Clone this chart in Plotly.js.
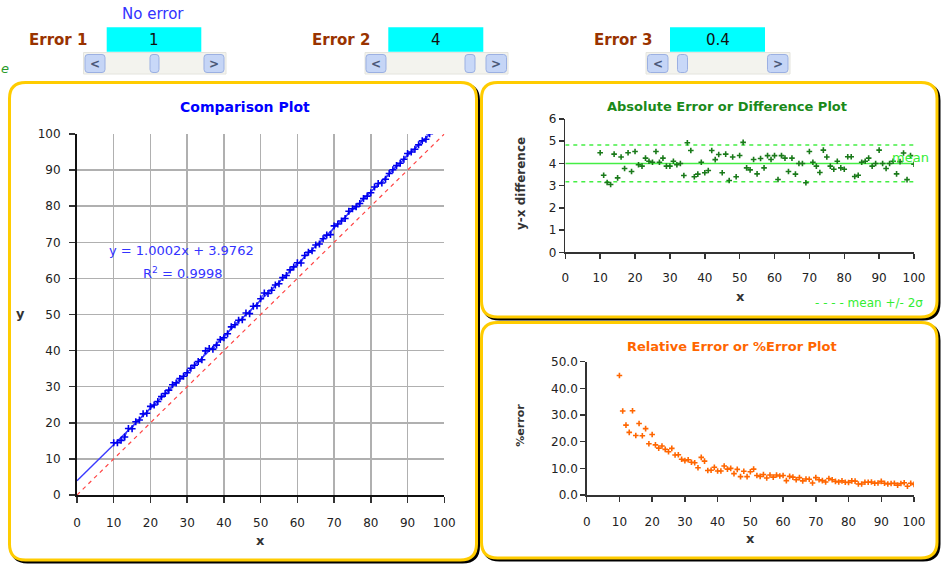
<!DOCTYPE html>
<html>
<head>
<meta charset="utf-8">
<script src="https://cdn.plot.ly/plotly-3.0.1.min.js"></script>
<style>
  html, body { margin: 0; padding: 0; background: #ffffff; }
  #chart { width: 943px; height: 565px; }
</style>
</head>
<body>
<div id="chart"></div>
<script>
// ---------------- DATA ----------------
const xValues = [10,11,12,13,14,15,16,17,18,19,20,21,22,23,24,25,26,27,28,29,30,
  31,32,33,34,35,36,37,38,39,40,41,42,43,44,45,46,47,48,49,50,
  51,52,53,54,55,56,57,58,59,60,61,62,63,64,65,66,67,68,69,70,
  71,72,73,74,75,76,77,78,79,80,81,82,83,84,85,86,87,88,89,90,
  91,92,93,94,95,96,97,98,99,100];

const yValues = [14.48,14.47,15.14,16.05,18.42,18.35,20.29,20.77,22.48,22.64,24.54,
  24.94,25.88,27.24,28.10,29.05,30.54,31.05,32.24,32.88,33.88,
  35.10,35.94,37.00,37.46,39.93,40.58,40.40,41.52,43.05,43.58,
  44.68,46.58,47.17,48.40,48.58,50.42,50.23,52.29,52.40,54.36,
  55.95,55.80,56.71,58.18,58.53,60.22,60.80,62.35,63.18,64.35,
  64.28,66.35,67.24,67.64,69.24,69.52,71.00,72.00,72.13,74.54,
  75.05,75.88,76.59,78.60,79.29,79.88,80.74,82.10,82.80,83.74,
  85.30,86.30,86.41,87.47,89.05,90.10,91.24,91.88,93.00,94.60,
  95.00,95.77,97.00,98.10,98.53,100.08,101.47,101.27,103.35,103.96];

const diffValues = [4.48,3.47,3.14,3.05,4.42,3.35,4.29,3.77,4.48,3.64,4.54,
  3.94,3.88,4.24,4.10,4.05,4.54,4.05,4.24,3.88,3.88,
  4.10,3.94,4.00,3.46,4.93,4.58,3.40,3.52,4.05,3.58,
  3.68,4.58,4.17,4.40,3.58,4.42,3.23,4.29,3.40,4.36,
  4.95,3.80,3.71,4.18,3.53,4.22,3.80,4.35,4.18,4.35,
  3.28,4.35,4.24,3.64,4.24,3.52,4.00,4.00,3.13,4.54,
  4.05,3.88,3.59,4.60,4.29,3.88,3.74,4.10,3.80,3.74,
  4.30,4.30,3.41,3.47,4.05,4.10,4.24,3.88,4.00,4.60,
  4.00,3.77,4.00,4.10,3.53,4.08,4.47,3.27,4.35,3.96];

const pctErrorValues = [44.8,31.5,26.2,23.5,31.6,22.3,26.8,22.2,24.9,19.2,22.7,
  18.8,17.6,18.4,17.1,16.2,17.5,15.0,15.1,13.4,12.9,
  13.2,12.3,12.1,10.2,14.1,12.7,9.2,9.3,10.4,9.0,
  9.0,10.9,9.7,10.0,8.0,9.6,6.9,8.9,6.9,8.7,
  9.7,7.3,7.0,7.7,6.4,7.5,6.7,7.5,7.1,7.3,
  5.4,7.0,6.7,5.7,6.5,5.3,6.0,5.9,4.5,6.5,
  5.7,5.4,4.9,6.2,5.7,5.1,4.9,5.3,4.8,4.7,
  5.3,5.2,4.1,4.1,4.8,4.8,4.9,4.4,4.5,5.1,
  4.4,4.1,4.3,4.4,3.7,4.3,4.6,3.3,4.4,4.0];

const xAxisRange = [0, 100];
const trendSlope = 1.0002;
const trendIntercept = 3.9762;
const rSquared = 0.9998;
const diffMean = 4.00;
const diffUpper = 4.83;   // mean + 2 sigma
const diffLower = 3.17;   // mean - 2 sigma

const xTicks = [0,10,20,30,40,50,60,70,80,90,100];
const controlLabels = ["Error 1", "Error 2", "Error 3"];
const controlValues = ["1", "4", "0.4"];

// ---------------- helpers (pixel -> paper) ----------------
const W = 943, H = 565;
const PX = v => v / W;
const PY = v => 1 - v / H;

function ann(text, x, y, font, extra) {
  return Object.assign({
    text: text, xref: 'paper', yref: 'paper', x: PX(x), y: PY(y),
    xanchor: 'center', yanchor: 'middle', showarrow: false, font: font
  }, extra || {});
}
function rect(x0, y0, x1, y1, fill, lineColor, lw) {
  return { type: 'rect', xref: 'paper', yref: 'paper', layer: 'above',
    x0: PX(x0), x1: PX(x1), y0: PY(y1), y1: PY(y0),
    fillcolor: fill, line: { color: lineColor || fill, width: lw === undefined ? 1 : lw } };
}
function pt(x, y) { return PX(x).toFixed(5) + ',' + PY(y).toFixed(5); }
function rrPath(x0, y0, x1, y1, r) {
  return 'M' + pt(x0 + r, y0) + ' L' + pt(x1 - r, y0) +
    ' Q' + pt(x1, y0) + ' ' + pt(x1, y0 + r) +
    ' L' + pt(x1, y1 - r) + ' Q' + pt(x1, y1) + ' ' + pt(x1 - r, y1) +
    ' L' + pt(x0 + r, y1) + ' Q' + pt(x0, y1) + ' ' + pt(x0, y1 - r) +
    ' L' + pt(x0, y0 + r) + ' Q' + pt(x0, y0) + ' ' + pt(x0 + r, y0) + ' Z';
}
function panel(x0, y0, x1, y1) {
  return [
    { type: 'path', xref: 'paper', yref: 'paper', layer: 'below',
      path: rrPath(x0 + 2, y0 + 2, x1 + 2, y1 + 2, 16), fillcolor: '#000000',
      line: { color: '#000000', width: 3 } },
    { type: 'path', xref: 'paper', yref: 'paper', layer: 'below',
      path: rrPath(x0, y0, x1, y1, 16), fillcolor: '#ffffff',
      line: { color: '#ffcc00', width: 3 } }
  ];
}
function rrShape(x0, y0, x1, y1, r, fill, lineColor) {
  return { type: 'path', xref: 'paper', yref: 'paper', layer: 'above',
    path: rrPath(x0, y0, x1, y1, r), fillcolor: fill, line: { color: lineColor, width: 1 } };
}

// ---------------- layout pieces ----------------
const tickFont = { family: 'DejaVu Sans, Verdana, sans-serif', size: 12, color: '#222222' };
const titleFamily = 'DejaVu Sans, sans-serif';

const shapes = [].concat(
  panel(9.5, 82.5, 476.5, 560),
  panel(481.5, 82.5, 937, 317),
  panel(481.5, 322.5, 937, 558)
);

// controls (value boxes and scroll bars)
const ctrl = [
  { label: 58.3, box: [106.7, 201.3], bar: [83.5, 226], lb: [85, 105], rb: [204, 224], th: [150, 159] },
  { label: 340.7, box: [388.3, 483.3], bar: [365, 508], lb: [366, 386], rb: [486, 506.5], th: [465, 475] },
  { label: 623.3, box: [670, 765], bar: [646, 790], lb: [647.5, 668], rb: [767.5, 788], th: [677.5, 687.5] }
];
const annotations = [];
ctrl.forEach((c, i) => {
  shapes.push(rect(c.box[0], 27.3, c.box[1], 51.7, '#00ffff', '#00ffff', 0));
  shapes.push(rect(c.bar[0], 52.5, c.bar[1], 74, '#f3f3ee', '#e4e4de', 1));
  shapes.push(rrShape(c.lb[0], 54.5, c.lb[1], 72.5, 3, '#c5d5f6', '#9bb0e2'));
  shapes.push(rrShape(c.rb[0], 54.5, c.rb[1], 72.5, 3, '#c5d5f6', '#9bb0e2'));
  shapes.push(rrShape(c.th[0], 54.5, c.th[1], 72.5, 3, '#c8d8f8', '#9bb0e2'));
  annotations.push(ann('<b>' + controlLabels[i] + '</b>', c.label, 39.5,
    { family: titleFamily, size: 15, color: '#993300' }));
  annotations.push(ann(controlValues[i], (c.box[0] + c.box[1]) / 2, 39.5,
    { family: 'DejaVu Sans, sans-serif', size: 15, color: '#111111' }));
  annotations.push(ann('<b>&lt;</b>', (c.lb[0] + c.lb[1]) / 2, 63.5,
    { family: 'DejaVu Sans, sans-serif', size: 12, color: '#4a5878' }));
  annotations.push(ann('<b>&gt;</b>', (c.rb[0] + c.rb[1]) / 2, 63.5,
    { family: 'DejaVu Sans, sans-serif', size: 12, color: '#4a5878' }));
});

annotations.push(
  ann('No error', 153, 14.5, { family: 'DejaVu Sans, sans-serif', size: 15, color: '#3333ff' }),
  ann('<i>e</i>', 5, 68, { family: 'DejaVu Sans, sans-serif', size: 13, color: '#2a9a2a' }),
  // chart titles
  ann('<b>Comparison Plot</b>', 245, 106.5, { family: titleFamily, size: 14, color: '#0000ff' }),
  ann('<b>Absolute Error or Difference Plot</b>', 726.7, 106.5, { family: titleFamily, size: 13, color: '#1a8a1a' }),
  ann('<b>Relative Error or %Error Plot</b>', 731.7, 346.5, { family: titleFamily, size: 13, color: '#ff6600' }),
  // axis titles
  ann('<b>x</b>', 260, 540, { family: titleFamily, size: 13, color: '#333333' }),
  ann('<b>y</b>', 20.7, 313.3, { family: titleFamily, size: 13, color: '#333333' }),
  ann('<b>x</b>', 740, 296, { family: titleFamily, size: 13, color: '#333333' }),
  ann('<b>y-x difference</b>', 521.7, 183.3, { family: titleFamily, size: 12, color: '#333333' }, { textangle: -90 }),
  ann('<b>x</b>', 750, 538, { family: titleFamily, size: 13, color: '#333333' }),
  ann('<b>%error</b>', 520.7, 425, { family: titleFamily, size: 11, color: '#333333' }, { textangle: -90 }),
  // regression text
  ann('y = ' + trendSlope.toFixed(4) + 'x + ' + trendIntercept.toFixed(4), 181.7, 250,
    { family: 'DejaVu Sans, sans-serif', size: 13, color: '#3333ff' }),
  ann('R<sup>2</sup> = ' + rSquared.toFixed(4), 182.7, 273.3,
    { family: 'DejaVu Sans, sans-serif', size: 13, color: '#3333ff' }),
  // difference plot labels
  ann('mean', 910, 157, { family: 'DejaVu Sans, sans-serif', size: 13, color: '#33ee33' }),
  ann('- - - - mean +/- 2σ', 868.5, 303, { family: 'DejaVu Sans, sans-serif', size: 12, color: '#33ee33' })
);

// ---------------- traces ----------------
const traces = [
  { x: xAxisRange, y: xAxisRange, mode: 'lines', xaxis: 'x', yaxis: 'y',
    line: { color: '#ff4444', width: 1.2, dash: '4px,4px' }, hoverinfo: 'skip' },
  { x: xAxisRange, y: xAxisRange.map(v => trendSlope * v + trendIntercept), mode: 'lines',
    xaxis: 'x', yaxis: 'y', line: { color: '#3a3aff', width: 1.4 }, hoverinfo: 'skip' },
  { x: xValues, y: yValues, mode: 'lines+markers', xaxis: 'x', yaxis: 'y',
    line: { color: '#3333ff', width: 1 },
    marker: { symbol: 'cross-thin', size: 5, line: { color: '#0000ee', width: 1.6 } } },

  { x: xAxisRange, y: [diffUpper, diffUpper], mode: 'lines', xaxis: 'x2', yaxis: 'y2',
    line: { color: '#44ee44', width: 1.5, dash: '4px,4px' }, hoverinfo: 'skip' },
  { x: xAxisRange, y: [diffLower, diffLower], mode: 'lines', xaxis: 'x2', yaxis: 'y2',
    line: { color: '#44ee44', width: 1.5, dash: '4px,4px' }, hoverinfo: 'skip' },
  { x: xAxisRange, y: [diffMean, diffMean], mode: 'lines', xaxis: 'x2', yaxis: 'y2',
    line: { color: '#44ee44', width: 1.5 }, hoverinfo: 'skip' },
  { x: xValues, y: diffValues, mode: 'markers', xaxis: 'x2', yaxis: 'y2',
    marker: { symbol: 'cross-thin', size: 4, line: { color: '#1a7a1a', width: 1.6 } } },

  { x: xValues, y: pctErrorValues, mode: 'markers', xaxis: 'x3', yaxis: 'y3',
    marker: { symbol: 'cross-thin', size: 4, line: { color: '#ff6600', width: 1.6 } } }
];

// ---------------- axes ----------------
function baseAxis(extra) {
  return Object.assign({
    showline: true, linecolor: '#333333', linewidth: 1.5, ticks: 'outside', ticklen: 5,
    tickwidth: 1.5, tickcolor: '#333333', tickfont: tickFont, zeroline: false,
    showgrid: false, fixedrange: true, tickmode: 'array'
  }, extra);
}

const layout = {
  width: W, height: H, margin: { l: 0, r: 0, t: 0, b: 0 },
  paper_bgcolor: '#ffffff', plot_bgcolor: '#ffffff', showlegend: false,
  xaxis: baseAxis({ domain: [PX(77), PX(444.3)], range: xAxisRange, tickvals: xTicks,
    anchor: 'y', showgrid: true, gridcolor: '#b0b0b0', gridwidth: 1.5,
    linecolor: '#111111', linewidth: 2, ticklen: 6, ticklabelstandoff: 10 }),
  yaxis: baseAxis({ domain: [PY(495), PY(134)], range: [0, 100],
    tickvals: [0,10,20,30,40,50,60,70,80,90,100],
    anchor: 'x', showgrid: true, gridcolor: '#b0b0b0', gridwidth: 1.5,
    linecolor: '#111111', linewidth: 2, ticklen: 6, ticklabelstandoff: 6 }),
  xaxis2: baseAxis({ domain: [PX(565.3), PX(914)], range: xAxisRange, tickvals: xTicks,
    anchor: 'y2', ticklabelstandoff: 9 }),
  yaxis2: baseAxis({ domain: [PY(252.3), PY(119)], range: [0, 6], tickvals: [0,1,2,3,4,5,6],
    anchor: 'x2', ticklabelstandoff: 0 }),
  xaxis3: baseAxis({ domain: [PX(586.7), PX(914)], range: xAxisRange, tickvals: xTicks,
    anchor: 'y3', ticklabelstandoff: 10 }),
  yaxis3: baseAxis({ domain: [PY(495), PY(361.7)], range: [0, 50], tickvals: [0,10,20,30,40,50],
    ticktext: ['0.0','10.0','20.0','30.0','40.0','50.0'],
    anchor: 'x3', ticklabelstandoff: 0 }),
  shapes: shapes,
  annotations: annotations
};

Plotly.newPlot('chart', traces, layout, { displayModeBar: false, staticPlot: true });
</script>
</body>
</html>
